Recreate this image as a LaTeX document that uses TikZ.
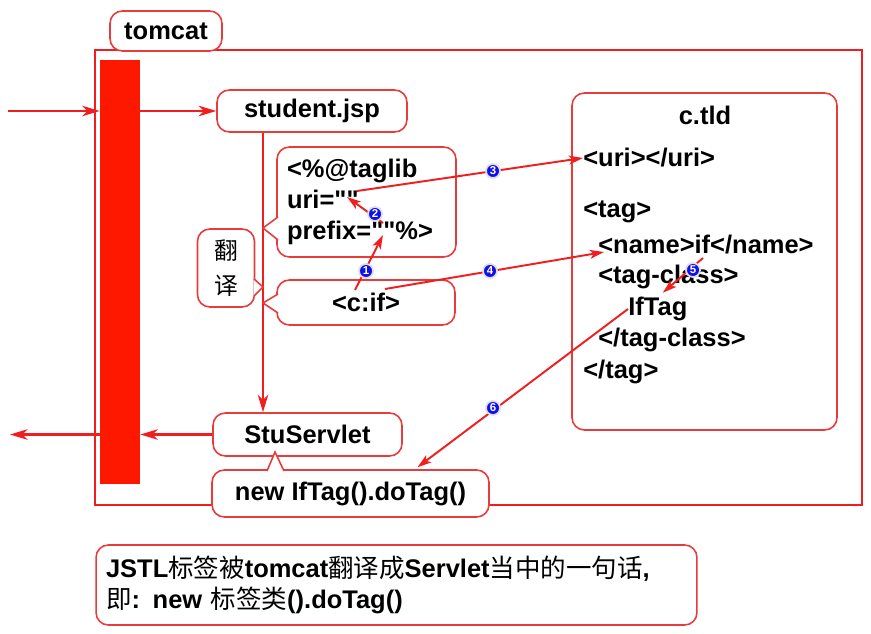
\documentclass[tikz,border=0pt]{standalone}
\usepackage{fontspec}
\setmainfont{Liberation Sans}
\newfontfamily\cjk{Noto Sans CJK SC}
\usetikzlibrary{arrows.meta,calc}

\definecolor{lnred}{RGB}{240,30,30}
\definecolor{bxred}{RGB}{232,60,60}
\definecolor{barred}{RGB}{255,24,0}
\definecolor{nblue}{RGB}{16,16,235}

\newcommand{\zh}[1]{{\cjk\mdseries #1}}
\newcommand{\dq}{\XeTeXglyph\XeTeXcharglyph"22\relax}

\tikzset{
  txt/.style={font=\bfseries\fontsize{14.5}{17.6}\selectfont},
  box/.style={txt, draw=bxred, line width=0.9pt, rounded corners=7pt, fill=white, inner sep=0pt},
  flow/.style={draw=lnred, line width=1.2pt, -{Stealth[length=10pt,width=6pt,inset=3pt]}},
  hop/.style={draw=lnred, line width=1.1pt, -{Stealth[length=8pt,width=5pt,inset=2pt]}},
  num/.style={circle, fill=nblue, draw=white!75!gray, line width=1pt, inner sep=0pt,
              minimum size=0.28cm, text=white, font=\bfseries\fontsize{6.5}{6.5}\selectfont},
  wedge/.style={draw=bxred, line width=0.9pt, fill=white}
}

\begin{document}
\begin{tikzpicture}[x=0.02cm, y=-0.02cm]
    \useasboundingbox (0,0) rectangle (871,634);

    % tomcat 外框及标题
    \node[draw=lnred, line width=1.4pt, minimum width=15.34cm, minimum height=9.1cm, inner sep=0pt] (tomcat) at (478.5,277.5) {};
    \node[box, minimum width=2.24cm, minimum height=0.8cm] (tomcatlbl) at (166,31) {tomcat};

    % 左侧红色竖条
    \node[fill=barred, minimum width=0.8cm, minimum height=8.48cm, inner sep=0pt] (bar) at (120,272) {};

    % student.jsp 与请求箭头
    \node[box, minimum width=3.8cm, minimum height=0.84cm] (jsp) at (312,111) {student.jsp};
    \coordinate (in) at (8,111);
    \draw[flow] (in) -- (in -| bar.west);
    \draw[flow] (bar.east |- jsp.west) -- (jsp.west);

    % StuServlet 与响应箭头
    \node[box, minimum width=3.78cm, minimum height=0.86cm] (servlet) at (307.5,434.5) {StuServlet};
    \coordinate (out) at (10,436);
    \draw[flow] (servlet.west) -- (servlet.west -| bar.east);
    \draw[flow] (bar.west |- servlet.west) -- (out |- servlet.west);

    % 翻译主线
    \coordinate (trunk) at (263,0);
    \draw[flow] (jsp.south -| trunk) -- (servlet.north -| trunk);

    % jsp 中的两段代码
    \node[box, text width=3.18cm, inner xsep=0.2cm, minimum height=2.2cm, align=left] (taglib) at (366.5,202)
        {<\%@taglib\\uri=\dq\dq\\prefix=\dq\dq\%>};
    \filldraw[wedge] (278,217) -- (trunk |- 0,228) -- (278,240);
    \node[box, minimum width=3.56cm, minimum height=0.9cm] (cif) at (366,302.5) {<c:if>};
    \filldraw[wedge] (278,294) -- (trunk |- 0,303) -- (278,313);

    % 翻译 标注
    \node[box, font=\cjk\fontsize{13.5}{20}\selectfont, minimum width=1.14cm, minimum height=1.56cm, align=center] (fanyi) at (226,268) {翻\\译};
    \filldraw[wedge] (254,279) -- (trunk |- 0,287) -- (254,296);

    % c.tld 文件
    \node[box, minimum width=5.3cm, minimum height=6.74cm] (tld) at (704.5,261.5) {};
    \node[txt] (tldname) at (705,115) {c.tld};
    \node[txt, anchor=west, inner sep=0pt] (uri) at (583,158) {<uri></uri>};
    \node[txt, anchor=west, inner sep=0pt] (tag) at (583,212) {<tag>};
    \node[txt, anchor=west, inner sep=0pt] (name) at (598,245) {<name>if</name>};
    \node[txt, anchor=west, inner sep=0pt] (tagclass) at (598,277) {<tag-class>};
    \node[txt, anchor=west, inner sep=0pt] (iftag) at (628,309) {IfTag};
    \node[txt, anchor=west, inner sep=0pt] (tagclassend) at (598,340) {</tag-class>};
    \node[txt, anchor=west, inner sep=0pt] (tagend) at (583,372) {</tag>};

    % 生成的语句
    \node[box, minimum width=5.54cm, minimum height=0.94cm] (newtag) at (350.5,493.5) {new IfTag().doTag()};
    \filldraw[wedge] (267,471) -- (275,452) -- (284,471);

    % 查找顺序 1-6
    \coordinate (cifL) at (355,290);
    \coordinate (cifR) at (385,289);
    \coordinate (prefixq) at (383,235);
    \coordinate (prefixs) at (383,223);
    \coordinate (uriq) at (347,197);
    \coordinate (uris) at (357,191);
    \coordinate (ifpt) at (703,258);
    \draw[hop] (cifL) -- (prefixq);
    \draw[hop] (prefixs) -- (uriq);
    \draw[hop] (uris) -- (uri.west);
    \draw[hop] (cifR) -- ($(name.west)+(6,7)$);
    \draw[hop] (ifpt) -- ($(iftag.north)+(5,-4)$);
    \draw[hop] (iftag.west) -- ($(newtag.north)+(67,-2)$);
    \node[num] (n1) at (366,271) {1};
    \node[num] (n2) at (375,214) {2};
    \node[num] (n3) at (493,171) {3};
    \node[num] (n4) at (490,271) {4};
    \node[num] (n5) at (693,270) {5};
    \node[num] (n6) at (493,408) {6};

    % 底部说明
    \node[box, text width=11.62cm, inner xsep=0.2cm, minimum height=1.6cm, align=left] (note) at (396.5,585)
        {JSTL\zh{标签被}tomcat\zh{翻译成}Servlet\zh{当中的一句话},\\\zh{即}: new \zh{标签类}().doTag()};
\end{tikzpicture}
\end{document}
